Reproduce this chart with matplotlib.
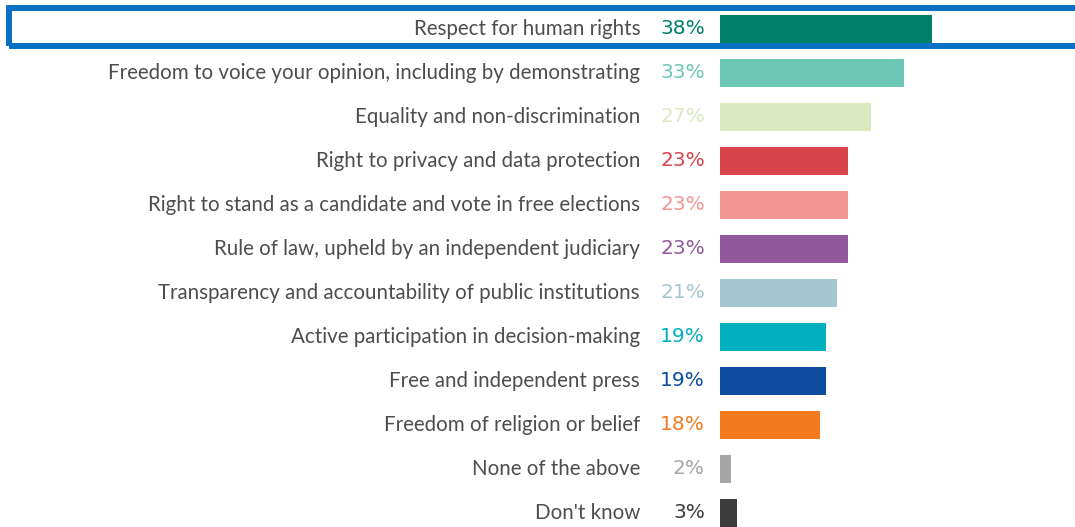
import matplotlib.pyplot as plt
from matplotlib.patches import Rectangle

# Survey answers, top to bottom
labels = [
    "Respect for human rights",
    "Freedom to voice your opinion, including by demonstrating",
    "Equality and non-discrimination",
    "Right to privacy and data protection",
    "Right to stand as a candidate and vote in free elections",
    "Rule of law, upheld by an independent judiciary",
    "Transparency and accountability of public institutions",
    "Active participation in decision-making",
    "Free and independent press",
    "Freedom of religion or belief",
    "None of the above",
    "Don't know",
]
values = [38, 33, 27, 23, 23, 23, 21, 19, 19, 18, 2, 3]
colors = ["#00806a", "#6cc7b4", "#dbe9c0", "#d9434b", "#f49592", "#91589b",
          "#a5c8d0", "#00b0bf", "#0b4c9e", "#f47a20", "#a6a6a6", "#3c3c3c"]

W, H = 1075, 527
fig = plt.figure(figsize=(W / 100, H / 100), dpi=100)
ax = fig.add_axes([0, 0, 1, 1])

# pixel mapping: bar origin at x=720, ~5.58 px per percent; rows 44 px apart
px_per = 5.58
x0 = 720
ax.set_xlim(-x0 / px_per, (W - x0) / px_per)
ax.set_ylim((H - 29) / 44, -29 / 44)
ax.axis("off")

y = list(range(len(labels)))
ax.barh(y, values, height=0.64, color=colors, edgecolor="none")

for i, (lab, v, c) in enumerate(zip(labels, values, colors)):
    ax.annotate(lab, (0, i), xytext=(-80, 0), textcoords="offset pixels",
                ha="right", va="center", fontsize=14.8, color="#4d4d4d",
                family="Lato")
    ax.annotate(f"{v}%", (0, i), xytext=(-15, 0), textcoords="offset pixels",
                ha="right", va="center", fontsize=14.5, color=c,
                family="DejaVu Sans")

# highlight frame around the first row
fig.add_artist(Rectangle((9 / W, 1 - 46 / H), 1.0, 38 / H,
                         transform=fig.transFigure, fill=False,
                         edgecolor="#0a70c4", linewidth=4.3, clip_on=False))

fig.savefig("out.png", dpi=100)
